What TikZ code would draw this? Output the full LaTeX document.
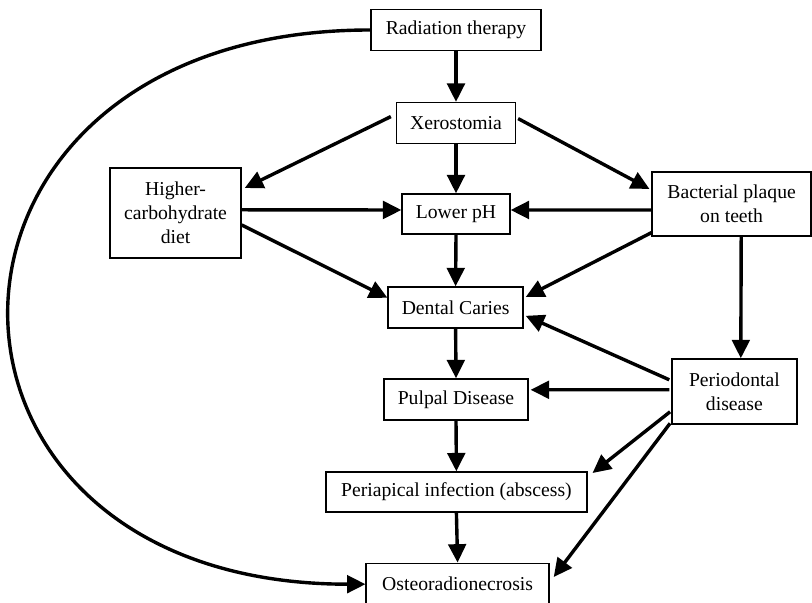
\documentclass[tikz,border=0pt]{standalone}
\usepackage{fontspec}
\setmainfont{Liberation Serif}
\usetikzlibrary{arrows.meta}

\begin{document}
\begin{tikzpicture}[
        box/.style={draw, line width=.9pt, inner sep=0pt, align=center,
            font=\fontsize{14}{17}\selectfont},
        link/.style={-{Triangle[length=.46cm, width=.44cm]}, line width=.85mm}
    ]
        \useasboundingbox (0, 0) rectangle (20.3, 15.075);

        % middle column
        \node[box, minimum width=4.25cm, minimum height=1.025cm] (rad) at(11.4, 14.325){Radiation therapy};
        \node[box, minimum width=2.975cm, minimum height=1.025cm] (xero) at(11.4, 12.0){Xerostomia};
        \node[box, minimum width=2.7cm, minimum height=1cm] (ph) at(11.4, 9.725){Lower pH};
        \node[box, minimum width=3.375cm, minimum height=1.025cm] (caries) at(11.39, 7.39){Dental Caries};
        \node[box, minimum width=3.6cm, minimum height=1.025cm] (pulpal) at(11.4, 5.09){Pulpal Disease};
        \node[box, minimum width=6.525cm, minimum height=1cm] (periap) at(11.41, 2.775){Periapical infection (abscess)};
        \node[box, minimum width=4.575cm, minimum height=1.05cm] (osteo) at(11.44, .47){Osteoradionecrosis};

        % side boxes
        \node[box, minimum width=3.275cm, minimum height=2.25cm] (diet) at(4.39, 9.75){Higher-\\carbohydrate\\diet};
        \node[box, minimum width=3.975cm, minimum height=1.6cm] (plaque) at(18.29, 9.975){Bacterial plaque\\on teeth};
        \node[box, minimum width=3.125cm, minimum height=1.625cm] (perio) at(18.36, 5.29){Periodontal\\disease};

        % down the middle
        \draw[link](rad.south) to (xero.north);
        \draw[link](xero.south) to (ph.north);
        \draw[link](ph.south) to (caries.north);
        \draw[link](caries.south) to (pulpal.north);
        \draw[link](pulpal.south) to (periap.north);
        \draw[link](periap.south) to (osteo.north);

        % from xerostomia
        \draw[link]([xshift=-.125cm, yshift=.16cm]xero.west) to ([xshift=.075cm, yshift=.625cm]diet.east);
        \draw[link]([xshift=.05cm, yshift=.11cm]xero.east) to ([xshift=-.05cm, yshift=.375cm]plaque.west);

        % diet and plaque
        \draw[link]([yshift=.08cm]diet.east) to ([yshift=.1cm]ph.west);
        \draw[link]([yshift=-.3cm]diet.east) to ([yshift=.24cm]caries.west);
        \draw[link]([yshift=-.15cm]plaque.west) to ([yshift=.1cm]ph.east);
        \draw[link]([yshift=.1cm]plaque.south west) to ([xshift=.05cm, yshift=.26cm]caries.east);
        \draw[link]([xshift=.24cm]plaque.south) to ([xshift=.16cm]perio.north);

        % periodontal disease
        \draw[link]([xshift=-.05cm, yshift=.29cm]perio.west) to ([xshift=.05cm, yshift=-.21cm]caries.east);
        \draw[link]([xshift=-.05cm, yshift=.04cm]perio.west) to ([xshift=.05cm, yshift=.24cm]pulpal.east);
        \draw[link]([xshift=-.03cm, yshift=-.51cm]perio.west) to ([xshift=.125cm, yshift=.475cm]periap.east);
        \draw[link]([xshift=-.03cm, yshift=.03cm]perio.south west) to ([xshift=.1cm, yshift=.18cm]osteo.east);

        % long way round
        \draw[link](rad.west) to[out=180, in=180, looseness=2.2] (osteo.west);

    \end{tikzpicture}
\end{document}
